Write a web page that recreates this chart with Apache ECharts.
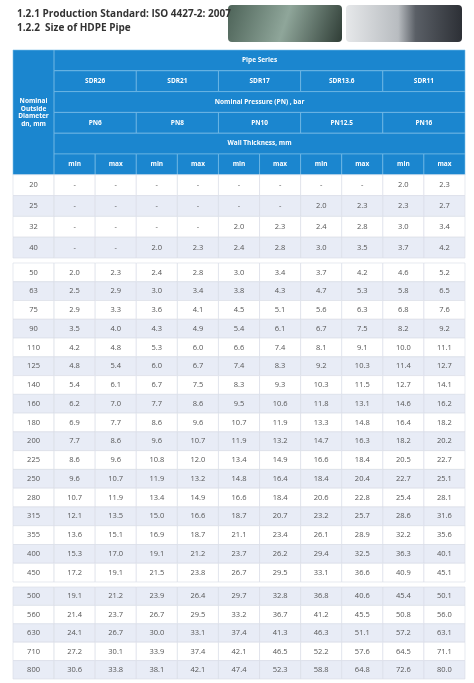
<!DOCTYPE html>
<html><head><meta charset="utf-8">
<script src="https://cdn.jsdelivr.net/npm/echarts@6/dist/echarts.min.js"></script>
<style>html,body{margin:0;padding:0;background:#fff}#c{width:474px;height:683px}</style>
</head><body><div id="c"></div>
<script>
const titleLines = ["1.2.1 Production Standard: ISO 4427-2: 2007", "1.2.2  Size of HDPE Pipe"];
const sdrSeries = ["SDR26", "SDR21", "SDR17", "SDR13.6", "SDR11"];
const pnClasses = ["PN6", "PN8", "PN10", "PN12.5", "PN16"];
const dnTop = ["20", "25", "32", "40"];
const dnMid = ["50","63","75","90","110","125","140","160","180","200","225","250","280","315","355","400","450"];
const dnLow = ["500","560","630","710","800"];
const wallTop = [
  ["-","-","-","-","-","-","-","-","2.0","2.3"],
  ["-","-","-","-","-","-","2.0","2.3","2.3","2.7"],
  ["-","-","-","-","2.0","2.3","2.4","2.8","3.0","3.4"],
  ["-","-","2.0","2.3","2.4","2.8","3.0","3.5","3.7","4.2"]
];
const wallMid = [
  ["2.0","2.3","2.4","2.8","3.0","3.4","3.7","4.2","4.6","5.2"],
  ["2.5","2.9","3.0","3.4","3.8","4.3","4.7","5.3","5.8","6.5"],
  ["2.9","3.3","3.6","4.1","4.5","5.1","5.6","6.3","6.8","7.6"],
  ["3.5","4.0","4.3","4.9","5.4","6.1","6.7","7.5","8.2","9.2"],
  ["4.2","4.8","5.3","6.0","6.6","7.4","8.1","9.1","10.0","11.1"],
  ["4.8","5.4","6.0","6.7","7.4","8.3","9.2","10.3","11.4","12.7"],
  ["5.4","6.1","6.7","7.5","8.3","9.3","10.3","11.5","12.7","14.1"],
  ["6.2","7.0","7.7","8.6","9.5","10.6","11.8","13.1","14.6","16.2"],
  ["6.9","7.7","8.6","9.6","10.7","11.9","13.3","14.8","16.4","18.2"],
  ["7.7","8.6","9.6","10.7","11.9","13.2","14.7","16.3","18.2","20.2"],
  ["8.6","9.6","10.8","12.0","13.4","14.9","16.6","18.4","20.5","22.7"],
  ["9.6","10.7","11.9","13.2","14.8","16.4","18.4","20.4","22.7","25.1"],
  ["10.7","11.9","13.4","14.9","16.6","18.4","20.6","22.8","25.4","28.1"],
  ["12.1","13.5","15.0","16.6","18.7","20.7","23.2","25.7","28.6","31.6"],
  ["13.6","15.1","16.9","18.7","21.1","23.4","26.1","28.9","32.2","35.6"],
  ["15.3","17.0","19.1","21.2","23.7","26.2","29.4","32.5","36.3","40.1"],
  ["17.2","19.1","21.5","23.8","26.7","29.5","33.1","36.6","40.9","45.1"]
];
const wallLow = [
  ["19.1","21.2","23.9","26.4","29.7","32.8","36.8","40.6","45.4","50.1"],
  ["21.4","23.7","26.7","29.5","33.2","36.7","41.2","45.5","50.8","56.0"],
  ["24.1","26.7","30.0","33.1","37.4","41.3","46.3","51.1","57.2","63.1"],
  ["27.2","30.1","33.9","37.4","42.1","46.5","52.2","57.6","64.5","71.1"],
  ["30.6","33.8","38.1","42.1","47.4","52.3","58.8","64.8","72.6","80.0"]
];

const BLUE = '#1b86cf', LIGHT = '#e8ecf6', TXT = '#555';
// cells: [x0, x1, y0, y1, text, kind]  kind: h=header, w=white, l=light
function bodyCells(dns, rows, yOff, lightFirst) {
  const out = [];
  dns.forEach((d, i) => {
    const k = ((i % 2 === 1) !== lightFirst) ? 'l' : 'w';
    out.push([0, 1, yOff + i, yOff + i + 1, d, k]);
    rows[i].forEach((v, j) => out.push([j + 1, j + 2, yOff + i, yOff + i + 1, v, k]));
  });
  return out;
}
const c1 = [];
c1.push([0, 1, 0, 6, 'Nominal\nOutside\nDiameter\ndn, mm', 'h']);
c1.push([1, 11, 0, 1, 'Pipe Series', 'h']);
sdrSeries.forEach((s, i) => c1.push([1 + 2 * i, 3 + 2 * i, 1, 2, s, 'h']));
c1.push([1, 11, 2, 3, 'Nominal Pressure (PN) , bar', 'h']);
pnClasses.forEach((s, i) => c1.push([1 + 2 * i, 3 + 2 * i, 3, 4, s, 'h']));
c1.push([1, 11, 4, 5, 'Wall Thickness, mm', 'h']);
for (let j = 0; j < 10; j++) c1.push([j + 1, j + 2, 5, 6, j % 2 ? 'max' : 'min', 'h']);
c1.push(...bodyCells(dnTop, wallTop, 6, false));
const c2 = bodyCells(dnMid, wallMid, 0, false);
const c3 = bodyCells(dnLow, wallLow, 0, true);

function render(cells) {
  return function (params, api) {
    const c = cells[params.dataIndex];
    const p0 = api.coord([c[0], c[2]]), p1 = api.coord([c[1], c[3]]);
    const h = c[5] === 'h';
    const x = p0[0], y = p0[1], w = p1[0] - p0[0], hh = p1[1] - p0[1];
    return {
      type: 'group',
      children: [
        { type: 'rect', shape: { x, y, width: w, height: hh },
          style: { fill: h ? BLUE : (c[5] === 'l' ? LIGHT : '#fff'),
                   stroke: h ? '#7cc0ea' : '#d6dbe6', lineWidth: 0.6 } },
        { type: 'text', style: { x: x + w / 2, y: y + hh / 2, text: c[4],
          align: 'center', verticalAlign: 'middle', fill: h ? '#fff' : TXT,
          font: (h ? 'bold 6.5px' : '7.5px') + ' "Open Sans", sans-serif', lineHeight: 7.5 } }
      ]
    };
  };
}
const grids = [
  { left: 13, right: 9, top: 50, height: 208 },
  { left: 13, right: 9, top: 263, height: 319 },
  { left: 13, right: 9, top: 587, height: 92 }
];
const rowsN = [10, dnMid.length, dnLow.length];
const cellSets = [c1, c2, c3];
const chart = echarts.init(document.getElementById('c'), null, { renderer: 'canvas' });
chart.setOption({
  animation: false,
  title: [
    { text: titleLines[0], left: 12, top: 4, textStyle: { fontSize: 10, fontWeight: 'bold', color: '#333', fontFamily: '"Open Sans", sans-serif' } },
    { text: titleLines[1], left: 12, top: 18, textStyle: { fontSize: 10, fontWeight: 'bold', color: '#333', fontFamily: '"Open Sans", sans-serif' } }
  ],
  graphic: [
    { type: 'rect', left: 228, top: 5, shape: { width: 114, height: 37, r: 4 },
      style: { fill: { type: 'linear', x: 0, y: 0, x2: 1, y2: 1, colorStops: [{ offset: 0, color: '#4d6358' }, { offset: 0.5, color: '#8fa69a' }, { offset: 1, color: '#2f3d36' }] } } },
    { type: 'rect', left: 346, top: 5, shape: { width: 116, height: 37, r: 4 },
      style: { fill: { type: 'linear', x: 0, y: 0, x2: 1, y2: 0, colorStops: [{ offset: 0, color: '#e6e8ea' }, { offset: 0.45, color: '#b8bcc0' }, { offset: 0.6, color: '#5a5f66' }, { offset: 1, color: '#2d3036' }] } } }
  ],
  grid: grids,
  xAxis: grids.map((g, i) => ({ type: 'value', gridIndex: i, min: 0, max: 11, show: false })),
  yAxis: grids.map((g, i) => ({ type: 'value', gridIndex: i, min: 0, max: rowsN[i], inverse: true, show: false })),
  series: cellSets.map((cells, i) => ({
    type: 'custom', xAxisIndex: i, yAxisIndex: i,
    renderItem: render(cells),
    data: cells.map(c => [c[0], c[2], c[1], c[3]]),
    encode: { x: [0, 2], y: [1, 3] }
  }))
});
</script></body></html>
